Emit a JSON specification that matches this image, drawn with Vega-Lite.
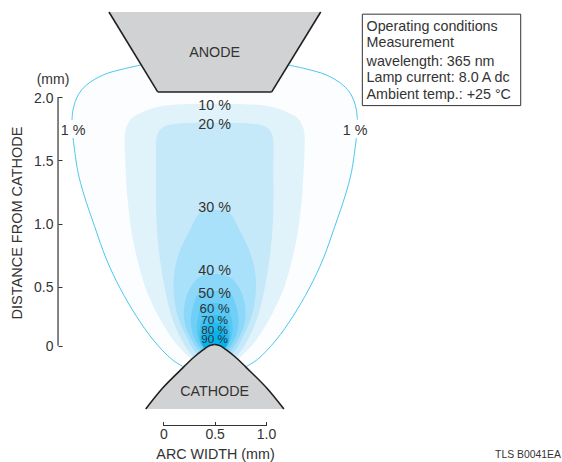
{"$schema":"https://vega.github.io/schema/vega-lite/v6.json","width":562,"height":462,"padding":0,"autosize":{"type":"none"},"background":"white","config":{"view":{"stroke":null},"font":"Liberation Sans"},
"datasets":{"contours":[
{"c":"1 %","y":2.29,"xl":-0.05,"xr":1.051,"seg":"hidden"},
{"c":"1 %","y":2.254,"xl":-0.21,"xr":1.211,"seg":"top"},
{"c":"1 %","y":2.222,"xl":-0.389,"xr":1.39,"seg":"top"},
{"c":"1 %","y":2.175,"xl":-0.584,"xr":1.585,"seg":"top"},
{"c":"1 %","y":2.096,"xl":-0.746,"xr":1.747,"seg":"top"},
{"c":"1 %","y":2.017,"xl":-0.828,"xr":1.829,"seg":"top"},
{"c":"1 %","y":1.911,"xl":-0.876,"xr":1.877,"seg":"top"},
{"c":"1 %","y":1.819,"xl":-0.889,"xr":1.89,"seg":"top"},
{"c":"1 %","y":1.676,"xl":-0.879,"xr":1.88,"seg":"bottom"},
{"c":"1 %","y":1.41,"xl":-0.832,"xr":1.833,"seg":"bottom"},
{"c":"1 %","y":1.225,"xl":-0.772,"xr":1.773,"seg":"bottom"},
{"c":"1 %","y":0.975,"xl":-0.668,"xr":1.669,"seg":"bottom"},
{"c":"1 %","y":0.711,"xl":-0.551,"xr":1.552,"seg":"bottom"},
{"c":"1 %","y":0.489,"xl":-0.422,"xr":1.423,"seg":"bottom"},
{"c":"1 %","y":0.246,"xl":-0.259,"xr":1.26,"seg":"bottom"},
{"c":"1 %","y":0.048,"xl":-0.097,"xr":1.098,"seg":"bottom"},
{"c":"1 %","y":-0.115,"xl":0.082,"xr":0.919,"seg":"bottom"},
{"c":"1 %","y":-0.178,"xl":0.195,"xr":0.806,"seg":"bottom"},
{"c":"10 %","y":1.945,"xl":0.357,"xr":0.644},
{"c":"10 %","y":1.943,"xl":0.195,"xr":0.806},
{"c":"10 %","y":1.93,"xl":0,"xr":1.001},
{"c":"10 %","y":1.884,"xl":-0.195,"xr":1.196},
{"c":"10 %","y":1.832,"xl":-0.308,"xr":1.309},
{"c":"10 %","y":1.753,"xl":-0.363,"xr":1.364},
{"c":"10 %","y":1.674,"xl":-0.376,"xr":1.377},
{"c":"10 %","y":1.542,"xl":-0.373,"xr":1.374},
{"c":"10 %","y":1.281,"xl":-0.356,"xr":1.357},
{"c":"10 %","y":1.186,"xl":-0.347,"xr":1.348},
{"c":"10 %","y":0.925,"xl":-0.308,"xr":1.309},
{"c":"10 %","y":0.737,"xl":-0.259,"xr":1.26},
{"c":"10 %","y":0.5,"xl":-0.178,"xr":1.179},
{"c":"10 %","y":0.277,"xl":-0.064,"xr":1.065},
{"c":"10 %","y":0.048,"xl":0.097,"xr":0.904},
{"c":"10 %","y":-0.079,"xl":0.228,"xr":0.773},
{"c":"10 %","y":-0.155,"xl":0.318,"xr":0.683},
{"c":"20 %","y":1.797,"xl":0.325,"xr":0.676},
{"c":"20 %","y":1.793,"xl":0.195,"xr":0.806},
{"c":"20 %","y":1.774,"xl":0.033,"xr":0.968},
{"c":"20 %","y":1.74,"xl":-0.032,"xr":1.033},
{"c":"20 %","y":1.687,"xl":-0.064,"xr":1.065},
{"c":"20 %","y":1.621,"xl":-0.071,"xr":1.072},
{"c":"20 %","y":1.423,"xl":-0.071,"xr":1.072},
{"c":"20 %","y":1.186,"xl":-0.071,"xr":1.072},
{"c":"20 %","y":0.975,"xl":-0.064,"xr":1.065},
{"c":"20 %","y":0.711,"xl":-0.032,"xr":1.033},
{"c":"20 %","y":0.472,"xl":0.017,"xr":0.984},
{"c":"20 %","y":0.246,"xl":0.082,"xr":0.919},
{"c":"20 %","y":0.048,"xl":0.179,"xr":0.822},
{"c":"20 %","y":-0.079,"xl":0.277,"xr":0.724},
{"c":"20 %","y":-0.138,"xl":0.357,"xr":0.644},
{"c":"30 %","y":1.107,"xl":0.474,"xr":0.527},
{"c":"30 %","y":1.083,"xl":0.357,"xr":0.644},
{"c":"30 %","y":0.949,"xl":0.26,"xr":0.741},
{"c":"30 %","y":0.79,"xl":0.165,"xr":0.836},
{"c":"30 %","y":0.632,"xl":0.11,"xr":0.891},
{"c":"30 %","y":0.472,"xl":0.1,"xr":0.901},
{"c":"30 %","y":0.303,"xl":0.125,"xr":0.876},
{"c":"30 %","y":0.161,"xl":0.18,"xr":0.821},
{"c":"30 %","y":-0.008,"xl":0.277,"xr":0.724},
{"c":"30 %","y":-0.104,"xl":0.357,"xr":0.644},
{"c":"40 %","y":0.6,"xl":0.474,"xr":0.527},
{"c":"40 %","y":0.577,"xl":0.357,"xr":0.644},
{"c":"40 %","y":0.529,"xl":0.292,"xr":0.709},
{"c":"40 %","y":0.415,"xl":0.225,"xr":0.776},
{"c":"40 %","y":0.277,"xl":0.2,"xr":0.801},
{"c":"40 %","y":0.161,"xl":0.218,"xr":0.783},
{"c":"40 %","y":0.048,"xl":0.277,"xr":0.724},
{"c":"40 %","y":-0.036,"xl":0.338,"xr":0.663},
{"c":"40 %","y":-0.087,"xl":0.396,"xr":0.605},
{"c":"50 %","y":0.464,"xl":0.474,"xr":0.527},
{"c":"50 %","y":0.43,"xl":0.338,"xr":0.663},
{"c":"50 %","y":0.331,"xl":0.29,"xr":0.711},
{"c":"50 %","y":0.218,"xl":0.268,"xr":0.733},
{"c":"50 %","y":0.108,"xl":0.285,"xr":0.716},
{"c":"50 %","y":0.006,"xl":0.338,"xr":0.663},
{"c":"50 %","y":-0.053,"xl":0.396,"xr":0.605},
{"c":"60 %","y":0.362,"xl":0.474,"xr":0.527},
{"c":"60 %","y":0.328,"xl":0.374,"xr":0.627},
{"c":"60 %","y":0.246,"xl":0.341,"xr":0.66},
{"c":"60 %","y":0.133,"xl":0.325,"xr":0.676},
{"c":"60 %","y":0.023,"xl":0.357,"xr":0.644},
{"c":"60 %","y":-0.036,"xl":0.406,"xr":0.595},
{"c":"70 %","y":0.26,"xl":0.474,"xr":0.527},
{"c":"70 %","y":0.226,"xl":0.386,"xr":0.615},
{"c":"70 %","y":0.15,"xl":0.357,"xr":0.644},
{"c":"70 %","y":0.065,"xl":0.352,"xr":0.649},
{"c":"70 %","y":-0.011,"xl":0.386,"xr":0.615},
{"c":"70 %","y":-0.045,"xl":0.435,"xr":0.566},
{"c":"80 %","y":0.192,"xl":0.474,"xr":0.527},
{"c":"80 %","y":0.158,"xl":0.396,"xr":0.605},
{"c":"80 %","y":0.091,"xl":0.367,"xr":0.634},
{"c":"80 %","y":0.023,"xl":0.367,"xr":0.634},
{"c":"80 %","y":-0.028,"xl":0.416,"xr":0.585},
{"c":"90 %","y":0.125,"xl":0.474,"xr":0.527},
{"c":"90 %","y":0.099,"xl":0.416,"xr":0.585},
{"c":"90 %","y":0.048,"xl":0.387,"xr":0.614},
{"c":"90 %","y":-0.003,"xl":0.387,"xr":0.614},
{"c":"90 %","y":-0.036,"xl":0.435,"xr":0.566}
],
"anode":[{"y":2.04,"xl":-0.0545,"xr":1.0555},{"y":2.672,"xl":-0.529,"xr":1.5326}],
"cathode":[
{"y":0.01,"xl":0.5,"xr":0.501},
{"y":0.006,"xl":0.474,"xr":0.527},
{"y":-0.003,"xl":0.442,"xr":0.559},
{"y":-0.036,"xl":0.387,"xr":0.614},
{"y":-0.104,"xl":0.289,"xr":0.712},
{"y":-0.183,"xl":0.195,"xr":0.806},
{"y":-0.358,"xl":-0.006,"xr":1.007},
{"y":-0.536,"xl":-0.171,"xr":1.174}],
"labels":[
{"t":"1 %","x":-0.879,"y":1.73},{"t":"1 %","x":1.867,"y":1.73},
{"t":"10 %","x":0.5,"y":1.928},{"t":"20 %","x":0.5,"y":1.778},{"t":"30 %","x":0.5,"y":1.122},{"t":"40 %","x":0.5,"y":0.624},{"t":"50 %","x":0.5,"y":0.439},
{"t":"ANODE","x":0.5,"y":2.349},{"t":"CATHODE","x":0.5,"y":-0.392}],
"mid":[{"t":"60 %","x":0.5,"y":0.312}],
"small":[{"t":"70 %","x":0.5,"y":0.222},{"t":"80 %","x":0.5,"y":0.133},{"t":"90 %","x":0.5,"y":0.057}],
"notes":[
{"t":"Operating conditions","x":1.979,"y":2.557},{"t":"Measurement","x":1.979,"y":2.428},{"t":"wavelength: 365 nm","x":1.979,"y":2.278},{"t":"Lamp current: 8.0 A dc","x":1.979,"y":2.151},{"t":"Ambient temp.: +25 °C","x":1.979,"y":2.017}]
},
"layer":[
{"data":{"name":"contours"},"mark":{"type":"area","orient":"horizontal","interpolate":"catmull-rom"},
"encoding":{
"y":{"field":"y","type":"quantitative","title":"DISTANCE FROM CATHODE","scale":{"domain":[-0.985,0,0.5,1,1.5,2,2.767],"range":[462,345.7,286.7,223.5,160.2,97,0],"nice":false,"zero":false},
"axis":{"values":[0,0.5,1,1.5,2],"offset":-58,"grid":false,"domain":false,"tickSize":-4,"tickColor":"#333333","tickWidth":1,"labelPadding":9,"labelOffset":1,"labelFontSize":14,"labelColor":"#333333","labelFont":"Liberation Sans","labelExpr":"datum.value==0?'0':format(datum.value,'.1f')","titleFont":"Liberation Sans","titleFontSize":14.5,"titleFontWeight":"normal","titleColor":"#333333","titleX":-41,"titleY":222.5,"titleAnchor":"middle","titleAlign":"center","titleBaseline":"middle","labelFlush":false}},
"x":{"field":"xl","type":"quantitative","title":"ARC WIDTH (mm)","scale":{"domain":[-1.59,3.882],"nice":false,"zero":false},
"axis":{"values":[0,0.5,1],"offset":-36.5,"grid":false,"domain":false,"tickSize":-4,"tickColor":"#333333","tickWidth":1,"labelPadding":6,"labelFontSize":14,"labelColor":"#333333","labelFont":"Liberation Sans","labelExpr":"datum.value==0?'0':format(datum.value,'.1f')","titleFont":"Liberation Sans","titleFontSize":14.3,"titleFontWeight":"normal","titleColor":"#333333","titleX":215,"titleY":29,"titleAlign":"center","titleBaseline":"middle","labelFlush":false}},
"x2":{"field":"xr"},
"color":{"field":"c","type":"nominal","legend":null,"sort":null,"scale":{"domain":["1 %","10 %","20 %","30 %","40 %","50 %","60 %","70 %","80 %","90 %"],"range":["#fbfdfe","#e0f3fb","#c6e9f9","#a9e0fa","#8dd8f8","#70cff6","#55c8f4","#3cc1f2","#22baf0","#05b3ee"]}}}},
{"data":{"name":"contours"},"transform":[{"filter":"datum.c=='1 %'&&datum.seg!='hidden'"}],"mark":{"type":"line","stroke":"#4cc6ef","strokeWidth":1,"interpolate":"catmull-rom"},"encoding":{"x":{"field":"xl","type":"quantitative"},"y":{"field":"y","type":"quantitative"},"detail":{"field":"seg"},"order":{"field":"y","type":"quantitative"}}},
{"data":{"name":"contours"},"transform":[{"filter":"datum.c=='1 %'&&datum.seg!='hidden'"}],"mark":{"type":"line","stroke":"#4cc6ef","strokeWidth":1,"interpolate":"catmull-rom"},"encoding":{"x":{"field":"xr","type":"quantitative"},"y":{"field":"y","type":"quantitative"},"detail":{"field":"seg"},"order":{"field":"y","type":"quantitative"}}},
{"data":{"name":"anode"},"mark":{"type":"area","orient":"horizontal","color":"#d1d2d4"},"encoding":{"y":{"field":"y","type":"quantitative"},"x":{"field":"xl","type":"quantitative"},"x2":{"field":"xr"}}},
{"data":{"name":"anode"},"mark":{"type":"line","stroke":"#231f20","strokeWidth":1.6},"encoding":{"x":{"field":"xl","type":"quantitative"},"y":{"field":"y","type":"quantitative"},"order":{"field":"y","type":"quantitative"}}},
{"data":{"name":"anode"},"mark":{"type":"line","stroke":"#231f20","strokeWidth":1.6},"encoding":{"x":{"field":"xr","type":"quantitative"},"y":{"field":"y","type":"quantitative"},"order":{"field":"y","type":"quantitative"}}},
{"data":{"name":"anode"},"transform":[{"filter":"datum.y<2.1"}],"mark":{"type":"rule","stroke":"#231f20","strokeWidth":1.6},"encoding":{"x":{"field":"xl","type":"quantitative"},"x2":{"field":"xr"},"y":{"field":"y","type":"quantitative"}}},
{"data":{"name":"cathode"},"mark":{"type":"area","orient":"horizontal","color":"#d1d2d4","interpolate":"catmull-rom"},"encoding":{"y":{"field":"y","type":"quantitative"},"x":{"field":"xl","type":"quantitative"},"x2":{"field":"xr"}}},
{"data":{"name":"cathode"},"mark":{"type":"line","stroke":"#231f20","strokeWidth":1.6,"interpolate":"catmull-rom"},"encoding":{"x":{"field":"xl","type":"quantitative"},"y":{"field":"y","type":"quantitative"},"order":{"field":"y","type":"quantitative"}}},
{"data":{"name":"cathode"},"mark":{"type":"line","stroke":"#231f20","strokeWidth":1.6,"interpolate":"catmull-rom"},"encoding":{"x":{"field":"xr","type":"quantitative"},"y":{"field":"y","type":"quantitative"},"order":{"field":"y","type":"quantitative"}}},
{"data":{"values":[{"x":-1.025,"y":0,"y2":2}]},"mark":{"type":"rule","stroke":"#333333","strokeWidth":1.2},"encoding":{"x":{"field":"x","type":"quantitative"},"y":{"field":"y","type":"quantitative"},"y2":{"field":"y2"}}},
{"data":{"values":[{"x":0,"x2":1,"y":-0.676}]},"mark":{"type":"rule","stroke":"#333333","strokeWidth":1.2},"encoding":{"x":{"field":"x","type":"quantitative"},"x2":{"field":"x2"},"y":{"field":"y","type":"quantitative"}}},
{"data":{"name":"labels"},"mark":{"type":"text","font":"Liberation Sans","fontSize":14.3,"color":"#333333","baseline":"middle","align":"center"},"encoding":{"x":{"field":"x","type":"quantitative"},"y":{"field":"y","type":"quantitative"},"text":{"field":"t"}}},
{"data":{"name":"mid"},"mark":{"type":"text","font":"Liberation Sans","fontSize":13.2,"color":"#333333","baseline":"middle","align":"center"},"encoding":{"x":{"field":"x","type":"quantitative"},"y":{"field":"y","type":"quantitative"},"text":{"field":"t"}}},
{"data":{"name":"small"},"mark":{"type":"text","font":"Liberation Sans","fontSize":11.8,"color":"#333333","baseline":"middle","align":"center"},"encoding":{"x":{"field":"x","type":"quantitative"},"y":{"field":"y","type":"quantitative"},"text":{"field":"t"}}},
{"data":{"values":[{"x":1.938,"x2":3.48,"y":2.655,"y2":1.932}]},"mark":{"type":"rect","fillOpacity":0,"stroke":"#333333","strokeWidth":1},"encoding":{"x":{"field":"x","type":"quantitative"},"x2":{"field":"x2"},"y":{"field":"y","type":"quantitative"},"y2":{"field":"y2"}}},
{"data":{"name":"notes"},"mark":{"type":"text","font":"Liberation Sans","fontSize":14.3,"color":"#333333","baseline":"middle","align":"left"},"encoding":{"x":{"field":"x","type":"quantitative"},"y":{"field":"y","type":"quantitative"},"text":{"field":"t"}}},
{"data":{"values":[{"t":"(mm)","x":-1.074,"y":2.135}]},"mark":{"type":"text","font":"Liberation Sans","fontSize":14,"color":"#333333","baseline":"middle","align":"center"},"encoding":{"x":{"field":"x","type":"quantitative"},"y":{"field":"y","type":"quantitative"},"text":{"field":"t"}}},
{"data":{"values":[{"t":"TLS B0041EA","x":3.23,"y":-0.926}]},"mark":{"type":"text","font":"Liberation Sans","fontSize":10.4,"color":"#333333","baseline":"middle","align":"left"},"encoding":{"x":{"field":"x","type":"quantitative"},"y":{"field":"y","type":"quantitative"},"text":{"field":"t"}}}
]}
